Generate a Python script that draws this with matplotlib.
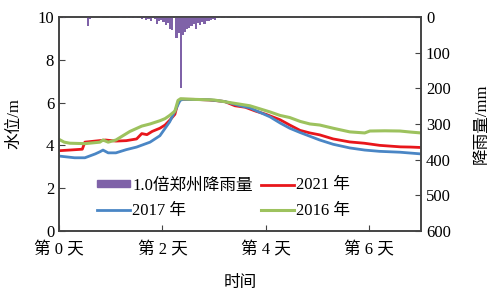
import numpy as np
import matplotlib.pyplot as plt
from matplotlib.patches import Patch

plt.rcParams['font.family'] = ['Liberation Serif', 'Noto Sans CJK SC']

# water level (m), x in days
d2021 = [0, 0.2, 0.45, 0.5, 0.7, 0.9, 1.1, 1.3, 1.5, 1.6, 1.7, 1.8, 1.95, 2.05, 2.15, 2.24, 2.3, 2.35,
         2.6, 2.9, 3.2, 3.4, 3.6, 3.8, 4.0, 4.27, 4.46, 4.66, 4.85, 5.04, 5.3, 5.62, 5.9, 6.2, 6.6, 6.8, 7.0]
h2021 = [3.75, 3.78, 3.82, 4.15, 4.2, 4.25, 4.2, 4.22, 4.3, 4.55, 4.5, 4.65, 4.8, 4.95, 5.2, 5.45, 6.0, 6.15,
         6.15, 6.12, 6.05, 5.85, 5.78, 5.6, 5.45, 5.2, 4.95, 4.7, 4.58, 4.49, 4.3, 4.16, 4.1, 4.0, 3.93, 3.92, 3.9]

d2017 = [0, 0.3, 0.5, 0.7, 0.79, 0.85, 0.95, 1.1, 1.3, 1.5, 1.76, 1.95, 2.14, 2.24, 2.34, 2.4, 2.9, 3.2,
         3.5, 3.69, 4.08, 4.27, 4.46, 4.66, 5.04, 5.3, 5.62, 5.91, 6.2, 6.59, 7.0]
h2017 = [3.5, 3.42, 3.42, 3.6, 3.7, 3.78, 3.65, 3.65, 3.8, 3.92, 4.15, 4.45, 5.1, 5.6, 6.1, 6.15, 6.13, 6.05,
         5.85, 5.75, 5.33, 5.05, 4.8, 4.6, 4.25, 4.05, 3.88, 3.78, 3.72, 3.68, 3.6]

d2016 = [0, 0.1, 0.21, 0.5, 0.79, 0.85, 0.95, 1.1, 1.37, 1.6, 1.76, 1.95, 2.05, 2.14, 2.24, 2.3, 2.35, 2.6,
         3.0, 3.3, 3.69, 4.08, 4.27, 4.46, 4.66, 4.85, 5.04, 5.3, 5.62, 5.91, 6.01, 6.3, 6.59, 6.8, 7.0]
h2016 = [4.28, 4.15, 4.1, 4.08, 4.15, 4.25, 4.15, 4.25, 4.65, 4.9, 5.0, 5.15, 5.25, 5.4, 5.6, 6.1, 6.18, 6.15,
         6.12, 6.0, 5.85, 5.56, 5.4, 5.3, 5.12, 5.0, 4.95, 4.8, 4.63, 4.58, 4.67, 4.68, 4.67, 4.62, 4.58]

# hourly rainfall (mm), hour index from day 0
rain_hour = [2, 13, 14, 19, 23, 28, 31, 33, 35, 38, 39, 40, 41, 42, 44, 45, 46, 47, 48, 49, 50, 51, 52,
             54, 55, 56, 57, 58, 59, 60, 61, 62, 63, 64, 65, 66, 67, 68, 69, 70, 71, 72, 74, 77, 82,
             112, 126, 140, 151]
rain_mm = [3, 25, 5, 2, 2, 3, 2, 4, 3, 6, 4, 8, 5, 10, 6, 20, 12, 8, 14, 22, 18, 34, 36,
           58, 46, 200, 50, 42, 35, 30, 25, 20, 35, 18, 22, 15, 20, 12, 10, 8, 6, 8, 4, 3, 2,
           3, 2, 2, 2]

xticks = [0, 2, 4, 6]
xticklabels = ['第 0 天', '第 2 天', '第 4 天', '第 6 天']

fig = plt.figure(figsize=(4.96, 2.92), dpi=100)
ax = fig.add_axes([0.119, 0.209, 0.730, 0.733])
ax2 = ax.twinx()

l21, = ax.plot(d2021, h2021, color='#e8161b', lw=2, label='2021 年')
l17, = ax.plot(d2017, h2017, color='#4a86c5', lw=2, label='2017 年')
l16, = ax.plot(d2016, h2016, color='#9dc25e', lw=2.2, label='2016 年')

rx = np.array(rain_hour) / 24.0
ax2.bar(rx, rain_mm, width=1 / 24, align='edge', color='#7f62a8', linewidth=0)

ax.set_xlim(0, 7)
ax.set_ylim(0, 10)
ax2.set_ylim(600, 0)
ax.set_xticks(xticks)
ax.set_xticklabels(xticklabels)
ax.set_yticks(np.arange(0, 11, 2))
ax2.set_yticks(np.arange(0, 601, 100))

for a in (ax, ax2):
    a.tick_params(direction='in', labelsize=12, length=4, color='#444444')
    for s in a.spines.values():
        s.set_color('#444444')
        s.set_linewidth(1.2)
ax.tick_params(axis='x', pad=8)

ax.set_ylabel('水位/m', fontsize=12)
ax2.set_ylabel('降雨量/mm', fontsize=12, rotation=90)
ax.set_xlabel('时间', fontsize=12)
ax.yaxis.set_label_coords(-0.1, 0.5)
ax2.yaxis.set_label_coords(1.145, 0.5)
ax.xaxis.set_label_coords(0.5, -0.205)

rain_handle = Patch(color='#7f62a8', label='1.0倍郑州降雨量')
ax2.legend(handles=[rain_handle, l17, l21, l16], ncol=2, frameon=False,
           loc='upper left', bbox_to_anchor=(0.105, 0.25), fontsize=12,
           handlelength=2.0, handleheight=0.35, handletextpad=0.1, columnspacing=0.5,
           labelspacing=0.55, borderaxespad=0.0, borderpad=0.0)

plt.savefig('out.png', dpi=100)
